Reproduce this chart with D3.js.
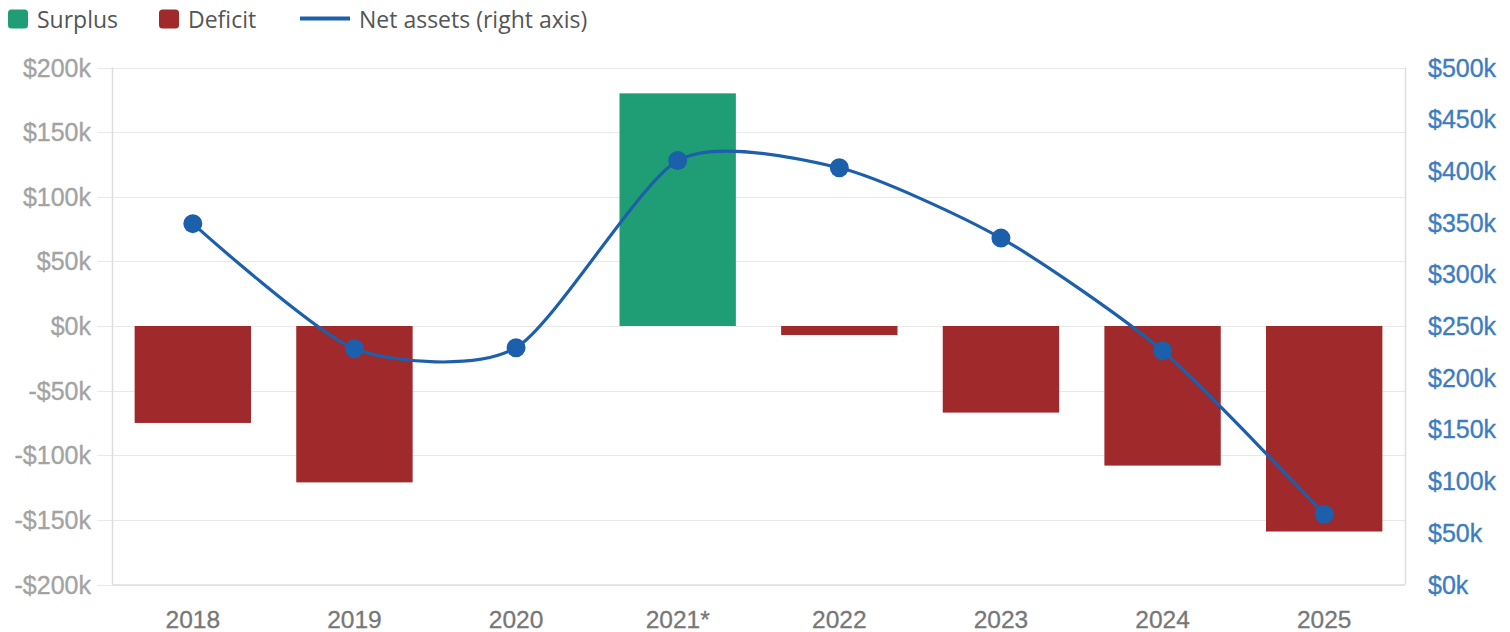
<!DOCTYPE html>
<html>
<head>
<meta charset="utf-8">
<script src="https://cdn.jsdelivr.net/npm/d3@7"></script>
<style>
  html, body { margin: 0; padding: 0; background: #ffffff; }
  svg { display: block; }
</style>
</head>
<body>
<svg id="chart" width="1510" height="632"></svg>
<script>
// ---- data ----
const categories = ["2018", "2019", "2020", "2021*", "2022", "2023", "2024", "2025"];
const surplusDeficit = [-75000, -121000, 0, 180000, -7000, -67000, -108000, -159000];
const netAssets = [349000, 228000, 229000, 410000, 403000, 335000, 226000, 68000];
const leftTicks = [-200000, -150000, -100000, -50000, 0, 50000, 100000, 150000, 200000];
const rightTicks = [0, 50000, 100000, 150000, 200000, 250000, 300000, 350000, 400000, 450000, 500000];
const legendLabels = ["Surplus", "Deficit", "Net assets (right axis)"];

// ---- layout ----
const svg = d3.select("#chart");
const plotLeft = 112, plotRight = 1405, plotTop = 67.5, plotBottom = 584.5;
const green = "#1f9e75", red = "#a0292c", blue = "#1c5fab";

const x = d3.scaleBand().domain(categories).range([plotLeft, plotRight]).paddingInner(0.28).paddingOuter(0.14);
const yL = d3.scaleLinear().domain([-200000, 200000]).range([plotBottom, plotTop]);
const yR = d3.scaleLinear().domain([0, 500000]).range([plotBottom, plotTop]);

const fmtL = v => (v < 0 ? "-$" : "$") + Math.abs(v / 1000) + "k";
const fmtR = v => "$" + (v / 1000) + "k";

// gridlines
svg.append("g").selectAll("line").data(leftTicks).join("line")
  .attr("x1", plotLeft - 15).attr("x2", plotRight)
  .attr("y1", d => Math.round(yL(d)) + 0.5).attr("y2", d => Math.round(yL(d)) + 0.5)
  .attr("stroke", "#e9e9e9").attr("stroke-width", 1.2);

// frame
svg.append("line").attr("x1", plotLeft + 0.5).attr("x2", plotLeft + 0.5).attr("y1", plotTop).attr("y2", plotBottom)
  .attr("stroke", "#dddddd").attr("stroke-width", 1.5);
svg.append("line").attr("x1", plotRight + 0.5).attr("x2", plotRight + 0.5).attr("y1", plotTop).attr("y2", plotBottom)
  .attr("stroke", "#dddddd").attr("stroke-width", 1.5);
svg.append("line").attr("x1", plotLeft).attr("x2", plotRight).attr("y1", plotBottom + 0.5).attr("y2", plotBottom + 0.5)
  .attr("stroke", "#dddddd").attr("stroke-width", 1.5);

// left axis labels
const axisFont = "'Liberation Sans', Arial, sans-serif";
svg.append("g").selectAll("text").data(leftTicks).join("text")
  .attr("x", 91).attr("y", d => yL(d)).attr("dy", "0.36em")
  .attr("text-anchor", "end")
  .attr("font-family", axisFont).attr("font-size", 25)
  .attr("fill", "#a3a3a3").attr("stroke", "#a3a3a3").attr("stroke-width", 0.35)
  .text(fmtL);

// right axis labels
svg.append("g").selectAll("text").data(rightTicks).join("text")
  .attr("x", 1428).attr("y", d => yR(d)).attr("dy", "0.36em")
  .attr("text-anchor", "start")
  .attr("font-family", axisFont).attr("font-size", 25)
  .attr("fill", "#3d7cc0").attr("stroke", "#3d7cc0").attr("stroke-width", 0.35)
  .text(fmtR);

// x labels
svg.append("g").selectAll("text").data(categories).join("text")
  .attr("x", d => x(d) + x.bandwidth() / 2).attr("y", 628)
  .attr("text-anchor", "middle")
  .attr("font-family", axisFont).attr("font-size", 24.5)
  .attr("fill", "#777777").attr("stroke", "#777777").attr("stroke-width", 0.3)
  .text(d => d);

// bars
svg.append("g").selectAll("rect").data(categories).join("rect")
  .attr("x", d => x(d))
  .attr("width", x.bandwidth())
  .attr("y", (d, i) => Math.min(yL(0), yL(surplusDeficit[i])))
  .attr("height", (d, i) => Math.abs(yL(surplusDeficit[i]) - yL(0)))
  .attr("fill", (d, i) => surplusDeficit[i] >= 0 ? green : red);

// line
const pts = categories.map((c, i) => [x(c) + x.bandwidth() / 2, yR(netAssets[i])]);
svg.append("path")
  .attr("d", d3.line().curve(d3.curveCardinal.tension(0.3))(pts))
  .attr("fill", "none").attr("stroke", blue).attr("stroke-width", 3.2);
svg.append("g").selectAll("circle").data(pts).join("circle")
  .attr("cx", d => d[0]).attr("cy", d => d[1]).attr("r", 9.5)
  .attr("fill", blue);

// legend
const legFont = "'Open Sans', 'Noto Sans', sans-serif";
const lg = svg.append("g");
lg.append("rect").attr("x", 8).attr("y", 9.5).attr("width", 20).attr("height", 19).attr("rx", 3.5).attr("fill", green);
lg.append("text").attr("x", 37).attr("y", 28).attr("font-family", legFont).attr("font-size", 23).attr("fill", "#555555").text(legendLabels[0]);
lg.append("rect").attr("x", 159).attr("y", 9.5).attr("width", 20).attr("height", 19).attr("rx", 3.5).attr("fill", red);
lg.append("text").attr("x", 188).attr("y", 28).attr("font-family", legFont).attr("font-size", 23).attr("fill", "#555555").text(legendLabels[1]);
lg.append("line").attr("x1", 300).attr("x2", 350).attr("y1", 18.5).attr("y2", 18.5).attr("stroke", blue).attr("stroke-width", 4);
lg.append("text").attr("x", 359).attr("y", 28).attr("font-family", legFont).attr("font-size", 23).attr("fill", "#555555").text(legendLabels[2]);
</script>
</body>
</html>
